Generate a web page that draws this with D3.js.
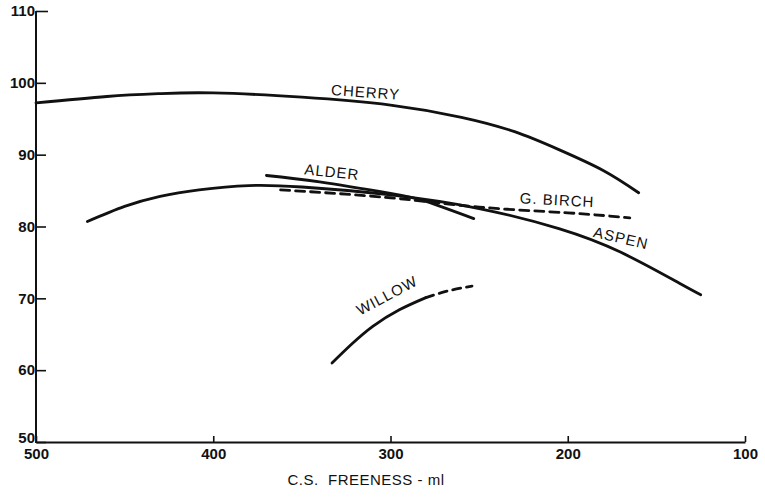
<!DOCTYPE html>
<html>
<head>
<meta charset="utf-8">
<script src="https://cdn.jsdelivr.net/npm/d3@7"></script>
<style>
  body { margin: 0; background: #fff; }
  text { font-family: "Liberation Sans", Arial, sans-serif; fill: #111; }
</style>
</head>
<body>
<svg width="765" height="497"></svg>
<script>
// data: [freeness ml, value]
const cherry = [[500, 97.2], [460, 98.1], [430, 98.5], [400, 98.6], [350, 98.0], [300, 96.9],
                [260, 95.2], [230, 93.2], [205, 90.7], [180, 87.8], [160, 84.7]];
const aspen  = [[471, 80.7], [450, 82.8], [430, 84.2], [408, 85.1], [380, 85.7], [350, 85.5],
                [300, 84.4], [250, 82.5], [205, 79.7], [170, 76.4], [137, 72.1], [125, 70.5]];
const alder  = [[370, 87.1], [340, 86.2], [300, 84.6], [280, 83.5], [253, 81.1]];
const birch  = [[362, 85.1], [300, 84.0], [250, 82.7], [200, 81.9], [165, 81.2]];
const willowSolid  = [[333, 61.0], [322, 63.6], [310, 66.1], [295, 68.4], [280, 70.1]];
const willowDashed = [[280, 70.1], [268, 71.0], [254, 71.7]];

const xTicks = [500, 400, 300, 200, 100];
const yTicks = [50, 60, 70, 80, 90, 100, 110];

// setup
const svg = d3.select("svg");
const x = d3.scaleLinear().domain([500, 100]).range([36, 745]);
const y = d3.scaleLinear().domain([50, 110]).range([442, 11]);

const line = d3.line()
               .x(d => x(d[0]))
               .y(d => y(d[1]))
               .curve(d3.curveNatural);

// axes
const xAxis = d3.axisBottom(x).tickValues(xTicks).tickSizeInner(-6).tickSizeOuter(0).tickPadding(4);
const yAxis = d3.axisLeft(y).tickValues(yTicks).tickSizeInner(-10).tickSizeOuter(0).tickPadding(4);

const gx = svg.append("g").attr("transform", `translate(0,${y(50)})`).call(xAxis);
const gy = svg.append("g").attr("transform", `translate(${x(500)},0)`).call(yAxis);

[gx, gy].forEach(g => {
  g.select(".domain").attr("stroke", "#111").attr("stroke-width", 2);
  g.selectAll(".tick line").attr("stroke", "#111").attr("stroke-width", 1.6);
  g.selectAll(".tick text").style("font-size", "15px").style("font-weight", "bold")
   .attr("fill", "#111");
});
gy.selectAll(".tick text").attr("dx", "3px");
gy.selectAll(".tick text").filter(d => d === 50).attr("dy", "0.05em");
gy.select(".tick:last-of-type line").attr("x2", 12);
gx.selectAll(".tick text").attr("y", 17).attr("dy", 0);
// axis lines need to cover the corner
gy.select(".domain").attr("d", `M0,${y(50) + 1}V${y(110)}`);

svg.append("text")
   .attr("x", 366).attr("y", 485)
   .attr("text-anchor", "middle")
   .style("font-size", "15px")
   .style("letter-spacing", "0.5px")
   .style("white-space", "pre")
   .text("C.S.  FREENESS - ml");

// curves
const curves = [
  {data: cherry, dash: null},
  {data: aspen,  dash: null},
  {data: alder,  dash: null},
  {data: birch,  dash: "9,6"},
  {data: willowSolid,  dash: null},
  {data: willowDashed, dash: "8,6"}
];

svg.append("g").selectAll("path")
   .data(curves)
   .join("path")
     .attr("d", d => line(d.data))
     .attr("fill", "none")
     .attr("stroke", "#111")
     .attr("stroke-width", 2.8)
     .attr("stroke-linecap", "round")
     .attr("stroke-dasharray", d => d.dash);

// curve labels (centre of the text)
const labels = [
  {text: "CHERRY",   fx: 314, v: 98.7, rot: 4},
  {text: "ALDER",    fx: 333, v: 87.6, rot: 6},
  {text: "G. BIRCH", fx: 206, v: 83.7, rot: 3},
  {text: "ASPEN",    fx: 170, v: 78.4, rot: 13},
  {text: "WILLOW",   fx: 302, v: 70.4, rot: -28}
];

svg.append("g").selectAll("text")
   .data(labels)
   .join("text")
     .attr("transform", d => `translate(${x(d.fx)},${y(d.v)}) rotate(${d.rot})`)
     .attr("text-anchor", "middle")
     .attr("dy", "0.35em")
     .style("font-size", "15px")
     .style("letter-spacing", "1px")
     .text(d => d.text);
</script>
</body>
</html>
